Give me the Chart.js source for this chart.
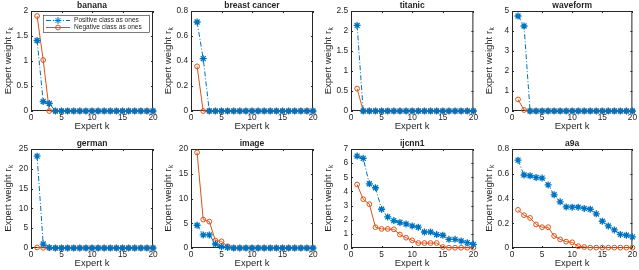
<!DOCTYPE html>
<html>
<head>
<meta charset="utf-8">
<script src="https://cdn.jsdelivr.net/npm/chart.js@4.4.1/dist/chart.umd.min.js"></script>
<style>
  html, body { margin: 0; padding: 0; background: #fff; }
  #fig { position: relative; width: 639px; height: 270px; overflow: hidden; }
  #fig canvas { position: absolute; }
</style>
</head>
<body>
<div id="fig"></div>
<script>
// data
const experts = [1, 2, 3, 4, 5, 6, 7, 8, 9, 10, 11, 12, 13, 14, 15, 16, 17, 18, 19, 20];
const titles = ['banana', 'breast cancer', 'titanic', 'waveform', 'german', 'image', 'ijcnn1', 'a9a'];
const seriesNames = ['Positive class as ones', 'Negative class as ones'];
const xTicks = [0, 5, 10, 15, 20];
const yMax = [2, 0.8, 2.5, 5, 25, 20, 7, 0.8];
const yStep = [0.5, 0.2, 0.5, 1, 5, 5, 1, 0.2];

const posBanana = [1.41, 0.19, 0.15, 0, 0, 0, 0, 0, 0, 0, 0, 0, 0, 0, 0, 0, 0, 0, 0, 0];
const negBanana = [1.9, 1.02, 0, 0, 0, 0, 0, 0, 0, 0, 0, 0, 0, 0, 0, 0, 0, 0, 0, 0];
const posBreast = [0.712, 0.419, 0, 0, 0, 0, 0, 0, 0, 0, 0, 0, 0, 0, 0, 0, 0, 0, 0, 0];
const negBreast = [0.357, 0, 0, 0, 0, 0, 0, 0, 0, 0, 0, 0, 0, 0, 0, 0, 0, 0, 0, 0];
const posTitanic = [2.14, 0, 0, 0, 0, 0, 0, 0, 0, 0, 0, 0, 0, 0, 0, 0, 0, 0, 0, 0];
const negTitanic = [0.56, 0, 0, 0, 0, 0, 0, 0, 0, 0, 0, 0, 0, 0, 0, 0, 0, 0, 0, 0];
const posWaveform = [4.75, 4.25, 0, 0, 0, 0, 0, 0, 0, 0, 0, 0, 0, 0, 0, 0, 0, 0, 0, 0];
const negWaveform = [0.58, 0.05, 0, 0, 0, 0, 0, 0, 0, 0, 0, 0, 0, 0, 0, 0, 0, 0, 0, 0];
const posGerman = [23.2, 1.0, 0.1, 0, 0, 0, 0, 0, 0, 0, 0, 0, 0, 0, 0, 0, 0, 0, 0, 0];
const negGerman = [0.15, 0.05, 0, 0, 0, 0, 0, 0, 0, 0, 0, 0, 0, 0, 0, 0, 0, 0, 0, 0];
const posImage = [4.6, 2.64, 2.64, 0.81, 0.27, 0.1, 0, 0, 0, 0, 0, 0, 0, 0, 0, 0, 0, 0, 0, 0];
const negImage = [19.3, 5.74, 5.34, 1.49, 1.35, 0.34, 0, 0, 0, 0, 0, 0, 0, 0, 0, 0, 0, 0, 0, 0];
const posIjcnn = [6.5, 6.34, 4.54, 4.26, 2.74, 2.2, 1.94, 1.8, 1.7, 1.56, 1.47, 1.13, 1.13, 0.95, 0.9, 0.61, 0.61, 0.5, 0.38, 0.26];
const negIjcnn = [4.49, 3.45, 3.1, 1.47, 1.35, 1.35, 1.32, 0.95, 0.73, 0.54, 0.35, 0.35, 0.35, 0.35, 0.07, 0.02, 0.02, 0.02, 0.02, 0.02];
const posA9a = [0.71, 0.59, 0.584, 0.57, 0.565, 0.51, 0.43, 0.373, 0.332, 0.33, 0.33, 0.32, 0.313, 0.276, 0.216, 0.178, 0.146, 0.11, 0.103, 0.09];
const negA9a = [0.308, 0.265, 0.243, 0.19, 0.168, 0.168, 0.097, 0.07, 0.051, 0.046, 0.014, 0.008, 0.003, 0.003, 0.003, 0.003, 0.003, 0.003, 0.003, 0.003];

const posSeries = [posBanana, posBreast, posTitanic, posWaveform, posGerman, posImage, posIjcnn, posA9a];
const negSeries = [negBanana, negBreast, negTitanic, negWaveform, negGerman, negImage, negIjcnn, negA9a];

// layout of the 2x4 grid
const colX = [0, 160, 320, 480];
const colW = [160, 160, 160, 159];
const colLeft = [31, 31, 31, 32];
const colRight = [153, 153, 154, 154];
const rowY = [0, 135];
const rowH = 135;
const rowTop = [11, 14];
const rowBottom = [111, 113];

const blue = '#0072BD';
const orange = '#D95319';
const ink = '#262626';
const fontFamily = '"Liberation Sans", Arial, Helvetica, sans-serif';

function asterisk(ctx, x, y, r) {
	ctx.beginPath();
	for (let a = 0; a < 4; a++) {
		const t = a * Math.PI / 4;
		ctx.moveTo(x - r * Math.cos(t), y - r * Math.sin(t));
		ctx.lineTo(x + r * Math.cos(t), y + r * Math.sin(t));
	}
	ctx.stroke();
}

// box, inward ticks, titles and labels drawn like the MATLAB axes
const axesDecor = {
	id: 'axesDecor',
	beforeDatasetsDraw(chart) {
		const { ctx, chartArea: a, scales } = chart;
		ctx.save();
		ctx.strokeStyle = ink;
		ctx.lineWidth = 1;
		ctx.strokeRect(a.left + 0.5, a.top + 0.5, a.right - a.left - 1, a.bottom - a.top - 1);
		ctx.beginPath();
		scales.x.ticks.forEach((t) => {
			const px = Math.round(scales.x.getPixelForValue(t.value)) + 0.5;
			ctx.moveTo(px, a.bottom); ctx.lineTo(px, a.bottom - 2);
			ctx.moveTo(px, a.top); ctx.lineTo(px, a.top + 2);
		});
		scales.y.ticks.forEach((t) => {
			const py = Math.round(scales.y.getPixelForValue(t.value)) + 0.5;
			ctx.moveTo(a.left, py); ctx.lineTo(a.left + 2, py);
			ctx.moveTo(a.right, py); ctx.lineTo(a.right - 2, py);
		});
		ctx.stroke();
		ctx.restore();
	},
	afterDraw(chart, args, opts) {
		const { ctx, chartArea: a } = chart;
		const cx = (a.left + a.right) / 2;
		const cy = (a.top + a.bottom) / 2;
		ctx.save();
		ctx.fillStyle = ink;
		ctx.textAlign = 'center';
		ctx.textBaseline = 'middle';
		ctx.font = 'bold 8.5px ' + fontFamily;
		ctx.fillText(opts.title, cx, a.top - 5.5);
		ctx.font = '9.5px ' + fontFamily;
		ctx.fillText('Expert k', cx, a.bottom + 15);

		// y label with subscript k
		const main = 'Expert weight r';
		ctx.font = '9.5px ' + fontFamily;
		const wMain = ctx.measureText(main).width;
		ctx.font = '6.5px ' + fontFamily;
		const wSub = ctx.measureText('k').width;
		ctx.translate(a.left - 23, cy);
		ctx.rotate(-Math.PI / 2);
		ctx.textAlign = 'left';
		const start = -(wMain + wSub) / 2;
		ctx.font = '9.5px ' + fontFamily;
		ctx.fillText(main, start, 0);
		ctx.font = '6.5px ' + fontFamily;
		ctx.fillText('k', start + wMain + 0.5, 3);
		ctx.restore();

		if (opts.legend) {
			const bx = 43, by = 15, bw = 106, bh = 17;
			ctx.save();
			ctx.fillStyle = '#fff';
			ctx.fillRect(bx, by, bw, bh);
			ctx.strokeStyle = ink;
			ctx.lineWidth = 0.6;
			ctx.strokeRect(bx + 0.5, by + 0.5, bw, bh);
			const rows = [by + 5.5, by + 12.5];
			ctx.lineWidth = 1;
			// positive: dash-dot with asterisk
			ctx.strokeStyle = blue;
			ctx.setLineDash([5, 2, 1, 2]);
			ctx.beginPath(); ctx.moveTo(46, rows[0]); ctx.lineTo(70, rows[0]); ctx.stroke();
			ctx.setLineDash([]);
			asterisk(ctx, 58, rows[0], 3.4);
			// negative: solid with circle
			ctx.strokeStyle = orange;
			ctx.beginPath(); ctx.moveTo(46, rows[1]); ctx.lineTo(70, rows[1]); ctx.stroke();
			ctx.beginPath(); ctx.arc(58, rows[1], 2.4, 0, Math.PI * 2); ctx.stroke();
			ctx.fillStyle = ink;
			ctx.font = '6.6px ' + fontFamily;
			ctx.textAlign = 'left';
			ctx.textBaseline = 'middle';
			ctx.fillText(seriesNames[0], 74, rows[0]);
			ctx.fillText(seriesNames[1], 74, rows[1]);
			ctx.restore();
		}
	}
};

const fig = document.getElementById('fig');

titles.forEach((title, i) => {
	const col = i % 4;
	const row = Math.floor(i / 4);
	const W = colW[col];
	const H = rowH;
	const area = { left: colLeft[col], right: colRight[col], top: rowTop[row], bottom: rowBottom[row] };

	const canvas = document.createElement('canvas');
	canvas.width = W;
	canvas.height = H;
	canvas.style.left = colX[col] + 'px';
	canvas.style.top = rowY[row] + 'px';
	canvas.style.width = W + 'px';
	canvas.style.height = H + 'px';
	fig.appendChild(canvas);

	const tickFont = { family: fontFamily, size: 8.3 };

	new Chart(canvas, {
		type: 'line',
		data: {
			datasets: [
				{
					label: seriesNames[0],
					data: experts.map((k, j) => ({ x: k, y: posSeries[i][j] })),
					borderColor: blue,
					backgroundColor: blue,
					borderWidth: 1,
					borderDash: [5, 2, 1, 2],
					pointStyle: 'star',
					pointRadius: 3.5,
					pointBorderWidth: 1.3,
					pointBorderColor: blue,
					tension: 0,
					clip: false
				},
				{
					label: seriesNames[1],
					data: experts.map((k, j) => ({ x: k, y: negSeries[i][j] })),
					borderColor: orange,
					backgroundColor: 'rgba(0,0,0,0)',
					borderWidth: 1,
					pointStyle: 'circle',
					pointRadius: 2.4,
					pointBorderWidth: 1,
					pointBorderColor: orange,
					pointBackgroundColor: 'rgba(0,0,0,0)',
					tension: 0,
					clip: false
				}
			]
		},
		options: {
			responsive: false,
			animation: false,
			devicePixelRatio: 1,
			events: [],
			layout: {
				autoPadding: false,
				padding: { left: 0, top: area.top, right: W - area.right, bottom: 0 }
			},
			plugins: {
				legend: { display: false },
				tooltip: { enabled: false },
				title: { display: false },
				axesDecor: { title: title, legend: i === 0 }
			},
			scales: {
				x: {
					type: 'linear',
					min: xTicks[0],
					max: xTicks[xTicks.length - 1],
					afterBuildTicks: (s) => { s.ticks = xTicks.map((v) => ({ value: v })); },
					ticks: { font: tickFont, color: ink, padding: 2, autoSkip: false, maxRotation: 0 },
					grid: { display: false, drawTicks: false },
					border: { display: false },
					afterFit: (s) => { s.height = H - area.bottom; }
				},
				y: {
					type: 'linear',
					min: 0,
					max: yMax[i],
					ticks: {
						stepSize: yStep[i],
						font: tickFont,
						color: ink,
						padding: 3,
						autoSkip: false,
						callback: (v) => String(Math.round(v * 100) / 100)
					},
					grid: { display: false, drawTicks: false },
					border: { display: false },
					afterFit: (s) => { s.width = area.left; }
				}
			}
		},
		plugins: [axesDecor]
	});
});
</script>
</body>
</html>
